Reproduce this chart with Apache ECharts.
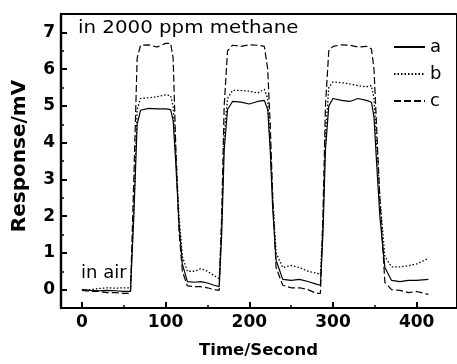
<!DOCTYPE html>
<html>
<head>
<meta charset="utf-8">
<script src="https://cdn.jsdelivr.net/npm/echarts@6/dist/echarts.min.js"></script>
<style>html,body{margin:0;padding:0;background:#fff;}#c{width:457px;height:364px;}</style>
</head>
<body>
<div id="c"></div>
<script>
var seriesNames = ['a', 'b', 'c'];
var time = [0, 10, 20, 30, 40, 50, 58, 62, 66, 70, 80, 90, 100, 106, 109, 112, 116, 120, 126, 135, 142, 150, 158, 164, 167, 170, 174, 180, 190, 200, 210, 218, 222, 225, 228, 232, 240, 250, 260, 270, 280, 285, 288, 291, 295, 300, 310, 320, 330, 340, 346, 349, 352, 356, 362, 370, 380, 390, 400, 414];
var valuesA = [0.0, -0.02, -0.03, -0.02, -0.03, -0.05, -0.05, 2.0, 4.5, 4.88, 4.93, 4.92, 4.92, 4.9, 4.6, 3.5, 1.8, 0.7, 0.22, 0.2, 0.22, 0.18, 0.12, 0.08, 1.5, 3.8, 4.9, 5.12, 5.1, 5.05, 5.12, 5.15, 4.9, 3.8, 2.2, 0.8, 0.28, 0.25, 0.28, 0.22, 0.15, 0.12, 1.5, 3.8, 5.0, 5.2, 5.15, 5.12, 5.2, 5.15, 5.1, 4.7, 3.5, 2.0, 0.6, 0.25, 0.22, 0.25, 0.25, 0.28];
var valuesB = [0.0, 0.0, 0.03, 0.05, 0.04, 0.05, 0.05, 2.2, 4.9, 5.2, 5.22, 5.25, 5.3, 5.28, 5.0, 3.8, 2.0, 0.9, 0.5, 0.5, 0.57, 0.5, 0.38, 0.3, 1.8, 4.2, 5.2, 5.42, 5.42, 5.4, 5.35, 5.45, 5.2, 4.0, 2.5, 1.0, 0.6, 0.66, 0.6, 0.5, 0.45, 0.42, 1.8, 4.2, 5.5, 5.65, 5.63, 5.6, 5.55, 5.52, 5.55, 5.2, 4.0, 2.5, 0.9, 0.62, 0.62, 0.65, 0.7, 0.85];
var valuesC = [-0.02, -0.05, -0.05, -0.08, -0.08, -0.1, -0.1, 3.0, 6.3, 6.65, 6.66, 6.6, 6.7, 6.7, 6.3, 4.0, 1.6, 0.5, 0.1, 0.08, 0.08, 0.05, 0.0, -0.02, 2.0, 5.0, 6.5, 6.65, 6.62, 6.66, 6.65, 6.62, 6.0, 4.5, 2.5, 0.6, 0.12, 0.05, 0.05, 0.0, -0.1, -0.1, 2.0, 5.0, 6.5, 6.62, 6.66, 6.65, 6.6, 6.62, 6.55, 6.0, 4.5, 2.5, 0.2, 0.0, -0.02, -0.08, -0.05, -0.13];
var xTickLabels = [0, 100, 200, 300, 400];
var xMinorTicks = [50, 150, 250, 350];
var yTickLabels = [0, 1, 2, 3, 4, 5, 6, 7];
var yMinorTicks = [0.5, 1.5, 2.5, 3.5, 4.5, 5.5, 6.5];

function pairs(vals) { return time.map(function (t, i) { return [t, vals[i]]; }); }

var FONT = 'DejaVu Sans';
var chart = echarts.init(document.getElementById('c'), null, { renderer: 'canvas' });
var lineStyles = [
  { color: '#000', width: 1.2, type: 'solid' },
  { color: '#000', width: 1.3, type: [1.5, 2] },
  { color: '#000', width: 1.2, type: [7, 3] }
];
var allValues = [valuesA, valuesB, valuesC];

chart.setOption({
  animation: false,
  backgroundColor: '#fff',
  grid: { left: 61, right: 1, top: 14, bottom: 56, containLabel: false },
  legend: {
    orient: 'vertical', left: 388, top: 33,
    itemWidth: 31, itemHeight: 14, itemGap: 9,
    itemStyle: { opacity: 0 },
    textStyle: { fontFamily: FONT, fontSize: 18, color: '#000', lineHeight: 18 },
    data: seriesNames
  },
  xAxis: [
    {
      type: 'value', min: -25, max: 447, position: 'bottom',
      name: 'Time/Second', nameLocation: 'middle', nameGap: 34,
      nameTextStyle: { fontFamily: FONT, fontWeight: 'bold', fontSize: 16.5, color: '#000' },
      axisLine: { show: true, onZero: false, lineStyle: { color: '#000', width: 2.2 } },
      axisTick: { show: true, inside: true, length: 6, customValues: xTickLabels, lineStyle: { color: '#000', width: 2 } },
      axisLabel: { show: true, margin: 6, customValues: xTickLabels, fontFamily: FONT, fontWeight: 'bold', fontSize: 17, color: '#000' },
      splitLine: { show: false }
    },
    {
      type: 'value', min: -25, max: 447, position: 'bottom',
      axisLine: { show: false, onZero: false },
      axisTick: { show: true, inside: true, length: 3, customValues: xMinorTicks, lineStyle: { color: '#000', width: 1.5 } },
      axisLabel: { show: false },
      splitLine: { show: false }
    },
    {
      type: 'value', min: -25, max: 447, position: 'top',
      axisLine: { show: true, onZero: false, lineStyle: { color: '#000', width: 2.2 } },
      axisTick: { show: false }, axisLabel: { show: false }, splitLine: { show: false }
    }
  ],
  yAxis: [
    {
      type: 'value', min: -0.5, max: 7.5, position: 'left',
      name: 'Response/mV', nameLocation: 'middle', nameGap: 31, nameRotate: 90,
      nameTextStyle: { fontFamily: FONT, fontWeight: 'bold', fontSize: 20, color: '#000', padding: [0, 0, 0, 10] },
      axisLine: { show: true, onZero: false, lineStyle: { color: '#000', width: 2.4 } },
      axisTick: { show: true, inside: true, length: 6, customValues: yTickLabels, lineStyle: { color: '#000', width: 2 } },
      axisLabel: { show: true, margin: 6, customValues: yTickLabels, fontFamily: FONT, fontWeight: 'bold', fontSize: 17, color: '#000' },
      splitLine: { show: false }
    },
    {
      type: 'value', min: -0.5, max: 7.5, position: 'left',
      axisLine: { show: false, onZero: false },
      axisTick: { show: true, inside: true, length: 3, customValues: yMinorTicks, lineStyle: { color: '#000', width: 1.5 } },
      axisLabel: { show: false }, splitLine: { show: false }
    },
    {
      type: 'value', min: -0.5, max: 7.5, position: 'right',
      axisLine: { show: true, onZero: false, lineStyle: { color: '#000', width: 1 } },
      axisTick: { show: false }, axisLabel: { show: false }, splitLine: { show: false }
    }
  ],
  series: seriesNames.map(function (n, i) {
    return {
      name: n, type: 'line', xAxisIndex: 0, yAxisIndex: 0,
      data: pairs(allValues[i]), symbol: 'none', showSymbol: false,
      lineStyle: lineStyles[i], itemStyle: { color: '#000' },
      clip: true
    };
  }),
  graphic: [
    { type: 'text', left: 78, top: 19, scaleX: 1.1, style: { text: 'in 2000 ppm methane', fontFamily: FONT, fontSize: 18, fill: '#000' } },
    { type: 'text', left: 81, top: 264, style: { text: 'in air', fontFamily: FONT, fontSize: 18, fill: '#000' } }
  ]
});
</script>
</body>
</html>
